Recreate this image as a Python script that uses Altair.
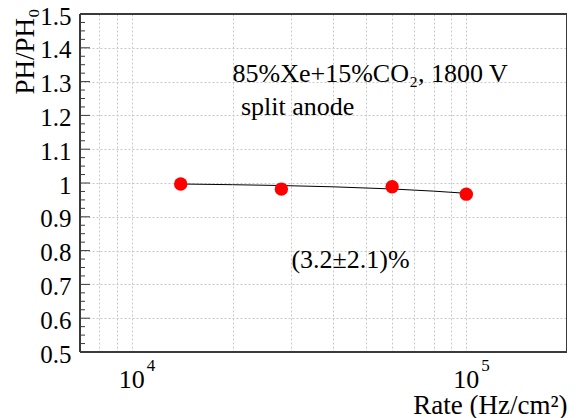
import altair as alt
import pandas as pd

# measured points
point_rates = [14000, 28000, 60000, 100000]
point_ph = [0.997, 0.982, 0.989, 0.967]

# fitted line
fit_rates = [14000, 20000, 28000, 40000, 60000, 80000, 100000]
fit_ph = [0.997, 0.995, 0.9925, 0.9887, 0.9823, 0.9759, 0.9695]

# axes
y_major = [0.5, 0.6, 0.7, 0.8, 0.9, 1.0, 1.1, 1.2, 1.3, 1.4, 1.5]
y_minor = [0.525, 0.55, 0.575, 0.625, 0.65, 0.675, 0.725, 0.75, 0.775,
           0.825, 0.85, 0.875, 0.925, 0.95, 0.975, 1.025, 1.05, 1.075,
           1.125, 1.15, 1.175, 1.225, 1.25, 1.275, 1.325, 1.35, 1.375,
           1.425, 1.45, 1.475]
x_grid = [8000, 9000, 10000, 20000, 30000, 40000, 50000, 60000, 70000,
          80000, 90000, 100000]
x_label_rates = [10000, 100000]
x_label_base = ["10", "10"]
x_label_exp = ["4", "5"]

# annotations
ann_text = ["85%Xe+15%CO\u2082, 1800 V", "split anode", "(3.2\u00b12.1)%"]
ann_rate = [20000, 21200, 30000]
ann_ph = [1.3, 1.2, 0.75]

FONT = "Liberation Serif"
W, H = 487, 338
PAD_L = 72
FRAME = "#3a3a3a"

xscale = alt.Scale(type="log", domain=[7000, 200000], nice=False)
yscale = alt.Scale(domain=[0.5, 1.5], nice=False, zero=False)

pts = pd.DataFrame({"rate": point_rates, "ph": point_ph})
fit = pd.DataFrame({"rate": fit_rates, "ph": fit_ph})
ymaj = pd.DataFrame({"ph": y_major})
ymin = pd.DataFrame({"ph": y_minor})
xlab = pd.DataFrame({"rate": x_label_rates, "base": x_label_base, "exp": x_label_exp})
ann = pd.DataFrame({"rate": ann_rate, "ph": ann_ph, "t": ann_text})
one = pd.DataFrame({"k": [0]})

x_axis = alt.Axis(values=x_grid, labels=False, ticks=False, domain=False,
                  grid=True, gridDash=[2, 2], gridColor="#c8c8c8", gridWidth=1,
                  title="Rate (Hz/cm\u00b2)", titleFont=FONT, titleFontSize=27,
                  titleFontWeight="normal", titleColor="black",
                  titleAlign="right", titleBaseline="alphabetic",
                  titleX=W, titleY=61)
y_axis = alt.Axis(values=y_major, format=".1~f", labelFont=FONT, labelFontSize=25,
                  labelColor="black", labelPadding=9, labelOverlap=False,
                  labelFlush=False, labelOffset=2, ticks=False, domain=False,
                  grid=True, gridDash=[2, 2], gridColor="#c8c8c8", gridWidth=1,
                  title="PH/PH\u2080", titleFont=FONT, titleFontSize=27,
                  titleFontWeight="normal", titleColor="black", titleAngle=270,
                  titleAlign="right", titleBaseline="alphabetic",
                  titleX=-47, titleY=-6)

X = alt.X("rate:Q", scale=xscale, axis=x_axis)
Y = alt.Y("ph:Q", scale=yscale, axis=y_axis)

minor_ticks = alt.Chart(ymin).mark_rule(color=FRAME, strokeWidth=1).encode(
    x=alt.value(0), x2=alt.value(5), y=Y,
)
major_ticks = alt.Chart(ymaj).mark_rule(color=FRAME, strokeWidth=1).encode(
    x=alt.value(0), x2=alt.value(10), y=Y,
)
frame_top = alt.Chart(one).mark_rule(color=FRAME, strokeWidth=2).encode(
    x=alt.value(0), x2=alt.value(W), y=alt.value(0))
frame_bottom = alt.Chart(one).mark_rule(color=FRAME, strokeWidth=2).encode(
    x=alt.value(0), x2=alt.value(W), y=alt.value(H))
frame_left = alt.Chart(one).mark_rule(color=FRAME, strokeWidth=2).encode(
    x=alt.value(0), y=alt.value(0), y2=alt.value(H))
frame_right = alt.Chart(one).mark_rule(color=FRAME, strokeWidth=2).encode(
    x=alt.value(W), y=alt.value(0), y2=alt.value(H))

line = alt.Chart(fit).mark_line(color="black", strokeWidth=1).encode(x=X, y=Y)
points = alt.Chart(pts).mark_circle(color="#ff0000", opacity=1, size=180).encode(
    x=X, y=Y)
base_lab = alt.Chart(xlab).mark_text(font=FONT, fontSize=26, align="center",
                                     baseline="alphabetic", color="black").encode(
    x=X, y=alt.value(H + 36), text="base:N",
)
exp_lab = alt.Chart(xlab).mark_text(font=FONT, fontSize=17, align="left",
                                    baseline="alphabetic", dx=15,
                                    color="black").encode(
    x=X, y=alt.value(H + 19), text="exp:N",
)
annotations = alt.Chart(ann).mark_text(font=FONT, fontSize=26, align="left",
                                       baseline="alphabetic", color="black").encode(
    x=X, y=Y, text="t:N",
)

chart = alt.layer(line, points, minor_ticks, major_ticks,
                  frame_top, frame_bottom, frame_left, frame_right,
                  base_lab, exp_lab, annotations).properties(
    width=W, height=H,
    autosize=alt.AutoSizeParams(type="none"),
    padding={"left": PAD_L, "top": 6, "right": 0, "bottom": 66},
).configure_view(strokeWidth=0).configure(background="white")

chart.save("out.html", embed_options={"renderer": "svg", "actions": False})
